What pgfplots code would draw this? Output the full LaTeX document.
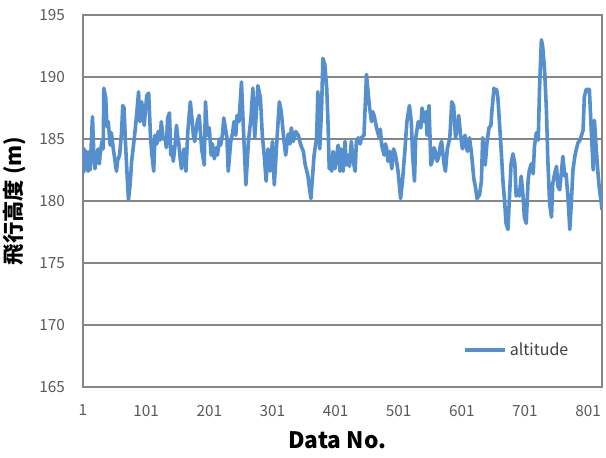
\documentclass[border=0pt]{standalone}
\usepackage{fontspec}
\setmainfont{Noto Sans CJK JP}
\usepackage{pgfplots}
\pgfplotsset{compat=1.18}
\definecolor{altblue}{RGB}{86,143,205}
\definecolor{gridgray}{RGB}{134,134,134}
\definecolor{ticktext}{RGB}{89,89,89}
\definecolor{legtext}{RGB}{64,64,64}

\begin{document}
\begin{tikzpicture}
\useasboundingbox (-62.25pt,-52.5pt) rectangle (392.25pt,290.25pt);
\begin{axis}[
    at={(0,0)}, anchor=south west,
    scale only axis,
    width=389.25pt, height=279pt,
    xmin=1, xmax=823, ymin=165, ymax=195,
    xtick={1,101,...,801},
    ytick={165,170,...,195},
    ymajorgrids=true,
    major grid style={gridgray, line width=0.9pt},
    axis line style={gridgray, line width=1.1pt},
    major tick length=0pt,
    /pgf/number format/assume math mode=true,
    /pgf/number format/1000 sep={},
    tick label style={font=\fontsize{11.5}{13}\selectfont, text=ticktext},
    yticklabel style={xshift=-10pt},
    xticklabel style={yshift=-10pt},
    xlabel={Data No.},
    ylabel={飛行高度 (m)},
    xlabel style={at={(axis description cs:0.49,-0.142)}, anchor=center,
        font=\fontsize{17}{19}\selectfont\bfseries},
    ylabel style={at={(axis description cs:-0.131,0.5)}, anchor=center,
        font=\fontsize{16}{18}\selectfont\bfseries},
    legend style={at={(axis description cs:0.725,0.0995)}, anchor=west,
        draw=none, fill=none, font=\fontsize{12}{14}\selectfont, text=legtext},
    legend image code/.code={\draw[#1] (0pt,0pt) -- (30pt,0pt);},
]
\addplot[altblue, line width=2.7pt, line join=round] coordinates {
(1,183.4) (2,182.3) (3,184.2) (4,183.1) (5,182.6) (6,184.0) (7,183.9)
(8,182.5) (9,182.4) (10,183.6) (11,184.0) (12,182.5) (13,183.0) (14,184.5)
(16,186.8) (18,184.0) (20,182.6) (22,183.5) (25,184.2) (27,183.0) (28,183.7)
(31,184.8) (33,184.2) (34,189.1) (37,188.3) (39,186.0) (41,186.4) (44,184.5)
(46,185.5) (49,184.2) (51,183.5) (54,182.4) (56,183.3) (59,183.7) (62,185.5)
(64,187.7) (66,187.5) (68,185.0) (70,182.9) (73,180.1) (75,181.0) (76,181.6)
(78,183.2) (81,184.5) (84,185.9) (86,187.0) (89,188.8) (91,186.4) (94,188.0)
(96,186.8) (98,186.1) (100,187.4) (102,188.5) (105,188.7) (108,185.1)
(110,183.8) (113,182.4) (115,185.3) (118,184.6) (120,185.6) (123,184.9)
(125,186.4) (128,185.0) (131,185.1) (133,184.3) (135,186.7) (138,187.1)
(140,183.7) (142,184.4) (144,183.2) (147,184.6) (149,186.1) (151,185.2)
(153,184.5) (155,183.4) (157,182.6) (159,183.5) (161,184.2) (164,182.4)
(167,185.6) (171,188.0) (174,186.4) (176,185.2) (178,184.8) (182,186.4)
(185,186.9) (189,184.2) (193,182.9) (195,188.0) (198,185.3) (201,185.9)
(204,183.7) (206,184.6) (209,183.4) (212,184.3) (214,183.7) (217,185.0)
(219,184.5) (222,185.4) (224,186.7) (229,185.1) (231,182.4) (235,184.8)
(238,185.5) (240,186.4) (243,185.3) (245,186.9) (248,186.4) (252,189.6)
(255,185.9) (259,181.3) (263,184.8) (267,186.7) (270,189.1) (273,185.1)
(276,187.5) (278,189.3) (282,188.3) (285,185.3) (288,183.7) (291,181.6)
(294,184.2) (297,182.4) (301,184.8) (304,181.3) (308,184.8) (312,188.0)
(315,187.2) (319,185.0) (322,183.7) (326,185.4) (329,184.6) (331,185.9)
(334,184.8) (338,185.6) (342,185.3) (346,184.5) (350,184.0) (353,182.9)
(357,182.1) (359,181.3) (362,180.2) (364,181.6) (367,183.7) (371,185.1)
(373,188.8) (376,184.2) (379,187.7) (381,191.5) (384,191.0) (387,189.1)
(389,186.4) (391,182.6) (393,183.5) (395,182.4) (397,184.0) (400,182.6)
(402,183.4) (405,184.5) (408,182.4) (410,184.2) (413,182.4) (416,184.8)
(418,182.9) (421,183.7) (423,182.8) (426,184.8) (429,183.2) (432,182.4)
(434,184.8) (437,185.1) (440,184.6) (442,185.1) (446,185.3) (450,190.2)
(453,188.5) (455,187.5) (458,186.4) (460,187.2) (462,186.9) (466,185.9)
(470,185.1) (472,185.8) (474,184.5) (478,183.7) (480,184.6) (482,184.2)
(484,183.2) (487,184.0) (490,182.6) (493,184.2) (496,183.7) (500,182.4)
(504,180.2) (507,181.6) (511,184.2) (514,186.4) (518,187.7) (521,186.4)
(523,183.7) (526,181.6) (528,185.1) (532,186.4) (536,185.9) (538,187.5)
(541,186.4) (544,187.2) (546,185.3) (549,187.7) (552,182.9) (555,183.4)
(557,184.3) (559,184.0) (562,183.2) (565,183.7) (567,184.5) (569,184.8)
(573,182.9) (575,182.4) (578,184.2) (582,185.1) (585,188.0) (588,187.7)
(591,185.1) (594,185.9) (596,186.9) (599,185.3) (602,184.2) (604,185.0)
(606,185.3) (608,184.4) (610,184.0) (613,185.1) (616,184.0) (620,181.8)
(623,181.0) (625,180.2) (629,180.5) (632,181.6) (634,185.1) (638,182.9)
(641,184.8) (644,185.9) (647,186.1) (649,187.5) (652,189.1) (654,188.8)
(656,189.0) (658,188.4) (661,186.0) (663,184.4) (666,181.7) (669,179.8)
(671,178.2) (674,177.7) (677,180.9) (679,183.0) (682,183.8) (685,183.0)
(687,180.4) (690,180.9) (692,180.4) (695,182.0) (698,180.4) (700,178.7)
(703,178.2) (706,181.7) (708,182.5) (711,183.0) (714,182.2) (716,184.4)
(719,185.5) (722,184.9) (724,189.0) (727,193.0) (729,192.5) (732,190.6)
(735,187.3) (737,183.6) (740,179.8) (743,178.7) (745,181.4) (748,182.2)
(751,182.8) (753,181.2) (756,180.9) (759,182.5) (761,183.6) (764,182.0)
(766,182.2) (769,180.4) (772,177.7) (774,179.5) (777,182.5) (780,183.6)
(782,184.1) (785,184.7) (788,184.9) (790,185.2) (793,185.7) (795,188.4)
(798,189.0) (803,189.0) (806,185.7) (809,182.5) (811,186.5) (814,184.1)
(817,182.0) (819,180.9) (822,179.8) (823,179.3)
};
\addlegendentry{altitude}
\end{axis}
\end{tikzpicture}
\end{document}
